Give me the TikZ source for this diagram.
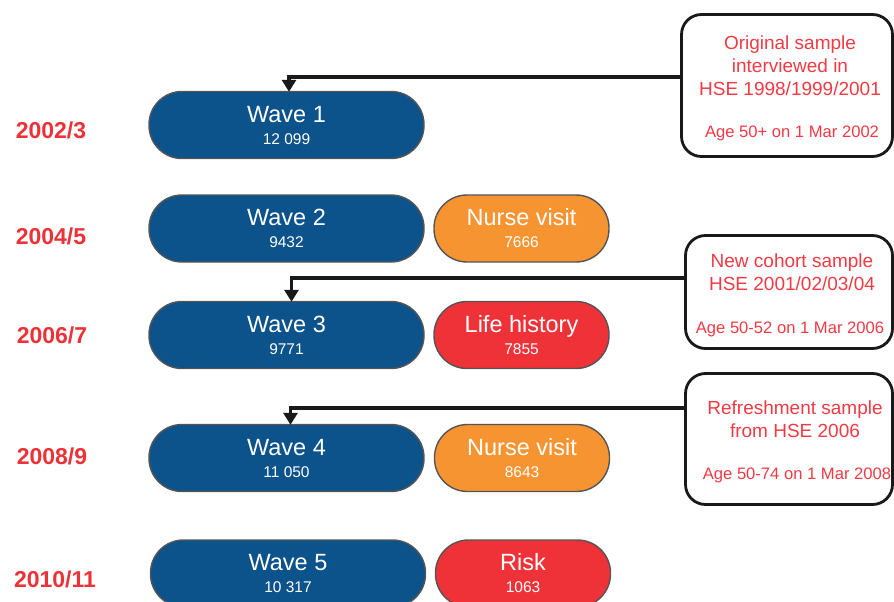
\documentclass[tikz,border=0pt]{standalone}
\usepackage{fontspec}
\setmainfont{Liberation Sans}
\usetikzlibrary{arrows.meta}
\definecolor{waveblue}{RGB}{12,82,139}
\definecolor{nurseorange}{RGB}{247,148,50}
\definecolor{lifered}{RGB}{238,50,56}
\definecolor{yearred}{RGB}{237,50,55}
\definecolor{notered}{RGB}{240,58,68}
\definecolor{pillline}{RGB}{85,85,85}
\tikzset{
  pill/.style={draw=pillline, line width=1.4pt, rounded corners=33pt,
    minimum height=67pt, inner sep=0pt, align=center, text=white,
    font=\fontsize{23.5}{25}\selectfont},
  wavepill/.style={pill, fill=waveblue, minimum width=275pt},
  sidepill/.style={pill, minimum width=175pt},
  year/.style={text=yearred, font=\fontsize{23}{25}\selectfont\bfseries, inner sep=0pt},
  callout/.style={draw=black!90, line width=2.8pt, rounded corners=20pt, inner sep=0pt},
  notebig/.style={text=notered, font=\fontsize{19}{23}\selectfont, align=center, inner sep=0pt},
  notesmall/.style={text=notered, font=\fontsize{16.6}{18}\selectfont, inner sep=0pt},
  arr/.style={line width=3.6pt, black!90, -{Triangle[length=12pt,width=14pt]}, shorten >=-1pt},
}
\newcommand{\sub}[1]{\\[-3pt]{\fontsize{15.5}{16}\selectfont #1}}
\begin{document}
\begin{tikzpicture}[x=1pt,y=-1pt]
\useasboundingbox (0,0) rectangle (894,602);
\clip (0,0) rectangle (894,602);
% years
\node[year] (y1) at (51,130) {2002/3};
\node[year] (y2) at (51,236) {2004/5};
\node[year] (y3) at (52,335) {2006/7};
\node[year] (y4) at (52,456) {2008/9};
\node[year] (y5) at (55,579) {2010/11};
% waves
\node[wavepill] (w1) at (286.5,125) {Wave 1\sub{12 099}};
\node[wavepill] (w2) at (286.5,228.5) {Wave 2\sub{9432}};
\node[wavepill] (w3) at (286.5,335) {Wave 3\sub{9771}};
\node[wavepill] (w4) at (286.5,458) {Wave 4\sub{11 050}};
\node[wavepill] (w5) at (288,573.5) {Wave 5\sub{10 317}};
% side studies
\node[sidepill, fill=nurseorange] (n1) at (521.5,228.5) {Nurse visit\sub{7666}};
\node[sidepill, fill=lifered] (lh) at (521.5,335) {Life history\sub{7855}};
\node[sidepill, fill=nurseorange] (n2) at (522,458) {Nurse visit\sub{8643}};
\node[sidepill, fill=lifered] (rk) at (523,573.5) {Risk\sub{1063}};
% callouts
\node[callout, minimum width=211pt, minimum height=142pt] (b1) at (787,85.5) {};
\node[callout, minimum width=207pt, minimum height=113pt] (b2) at (789,292) {};
\node[callout, minimum width=207pt, minimum height=131pt] (b3) at (789,439) {};
\node[notebig] (t1) at (790,66) {Original sample\\interviewed in\\HSE 1998/1999/2001};
\node[notesmall] (s1) at (792,133) {Age 50+ on 1 Mar 2002};
\node[notebig] (t2) at (792,272.5) {New cohort sample\\HSE 2001/02/03/04};
\node[notesmall] (s2) at (790,329) {Age 50-52 on 1 Mar 2006};
\node[notebig] (t3) at (795,419.5) {Refreshment sample\\from HSE 2006};
\node[notesmall] (s3) at (797,475) {Age 50-74 on 1 Mar 2008};
% connectors
\coordinate (c1) at (289,77);
\coordinate (c2) at (291.5,278);
\coordinate (c3) at (290.5,408);
\draw[arr] (b1.west |- c1) -- (c1) -- (c1 |- w1.north);
\draw[arr] (b2.west |- c2) -- (c2) -- (c2 |- w3.north);
\draw[arr] (b3.west |- c3) -- (c3) -- (c3 |- w4.north);
\end{tikzpicture}
\end{document}
